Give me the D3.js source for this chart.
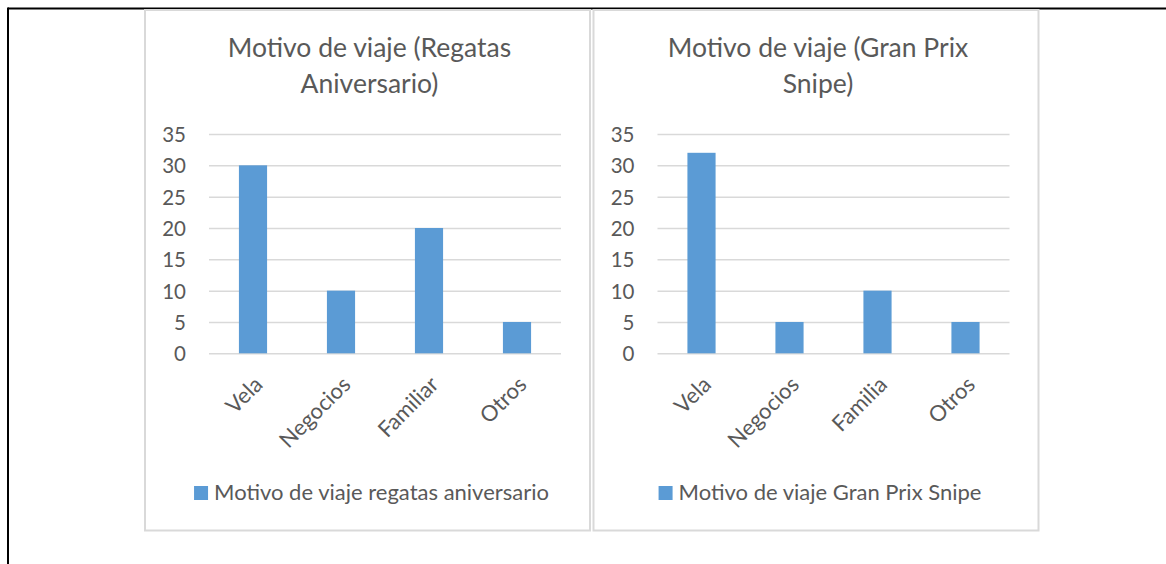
<!DOCTYPE html>
<html>
<head>
<meta charset="utf-8">
<script src="https://cdn.jsdelivr.net/npm/d3@7"></script>
<style>
  html, body { margin: 0; padding: 0; background: #fff; }
  svg { display: block; }
  text { font-family: Lato, "Open Sans", sans-serif; fill: #595959; }
</style>
</head>
<body>
<svg id="svg" width="1166" height="564"></svg>
<script>
// data
var titles1 = ["Motivo de viaje (Regatas", "Aniversario)"];
var cats1 = ["Vela", "Negocios", "Familiar", "Otros"];
var vals1 = [30, 10, 20, 5];
var legend1 = "Motivo de viaje regatas aniversario";

var titles2 = ["Motivo de viaje (Gran Prix", "Snipe)"];
var cats2 = ["Vela", "Negocios", "Familia", "Otros"];
var vals2 = [32, 5, 10, 5];
var legend2 = "Motivo de viaje Gran Prix Snipe";

var yTicks = [0, 5, 10, 15, 20, 25, 30, 35];

var svg = d3.select("#svg");

// outer page frame (top + left only)
svg.append("line").attr("x1", 8).attr("x2", 1166).attr("y1", 8.5).attr("y2", 8.5)
  .attr("stroke", "#000").attr("stroke-width", 2);
svg.append("line").attr("x1", 8).attr("x2", 8).attr("y1", 7.5).attr("y2", 564)
  .attr("stroke", "#000").attr("stroke-width", 2);

function drawChart(left, titles, cats, vals, legendText) {
  var boxW = 445, boxTop = 10, boxBottom = 530.5;
  var g = svg.append("g").attr("transform", "translate(" + left + ",0)");

  g.append("rect")
    .attr("x", 0).attr("y", boxTop)
    .attr("width", boxW).attr("height", boxBottom - boxTop)
    .attr("fill", "#fff").attr("stroke", "#d9d9d9").attr("stroke-width", 2);

  // title
  g.selectAll(".title").data(titles).enter().append("text")
    .attr("class", "title")
    .attr("x", boxW / 2 + 2)
    .attr("y", function (d, i) { return 57 + i * 35.5; })
    .attr("text-anchor", "middle")
    .style("font-size", "26.5px")
    .text(function (d) { return d; });

  var x = d3.scaleBand().domain(cats).range([64, 416]).paddingInner(0.68).paddingOuter(0.34);
  var y = d3.scaleLinear().domain([0, 35]).range([353.3, 134]);

  // gridlines
  g.append("g")
    .call(d3.axisLeft(y).tickValues(yTicks).tickSize(-(416 - 64)).tickFormat(""))
    .attr("transform", "translate(64,0)")
    .call(function (a) {
      a.select(".domain").remove();
      a.selectAll("line").attr("stroke", "#d9d9d9").attr("stroke-width", 1.5);
    });

  // y labels
  g.append("g")
    .attr("transform", "translate(41,0)")
    .call(d3.axisLeft(y).tickValues(yTicks).tickSize(0).tickPadding(0))
    .call(function (a) {
      a.select(".domain").remove();
      a.selectAll("text").style("font-size", "20.5px").attr("fill", "#595959")
        .style("font-family", "Lato, 'Open Sans', sans-serif").attr("dy", "0.36em");
    });

  // bars
  g.selectAll(".bar").data(vals).enter().append("rect")
    .attr("class", "bar")
    .attr("x", function (d, i) { return x(cats[i]); })
    .attr("width", x.bandwidth())
    .attr("y", function (d) { return y(d); })
    .attr("height", function (d) { return y(0) - y(d); })
    .attr("fill", "#5b9bd5");

  // x labels, rotated
  g.selectAll(".xl").data(cats).enter().append("text")
    .attr("class", "xl")
    .attr("transform", function (d) {
      return "translate(" + (x(d) + x.bandwidth() / 2) + ",375) rotate(-45)";
    })
    .attr("text-anchor", "end")
    .attr("dy", "0.7em")
    .style("font-size", "22px")
    .text(function (d) { return d; });

  // legend
  var leg = g.append("g");
  var lt = leg.append("text")
    .attr("x", 20).attr("y", 499.5)
    .style("font-size", "22px")
    .text(legendText);
  var tw = lt.node().getComputedTextLength();
  var total = 14 + 6 + tw;
  leg.attr("transform", "translate(" + (boxW / 2 + 4 - total / 2) + ",0)");
  leg.append("rect").attr("x", 0).attr("y", 486).attr("width", 14).attr("height", 14)
    .attr("fill", "#5b9bd5");
}

drawChart(145, titles1, cats1, vals1, legend1);
drawChart(593.5, titles2, cats2, vals2, legend2);
</script>
</body>
</html>
